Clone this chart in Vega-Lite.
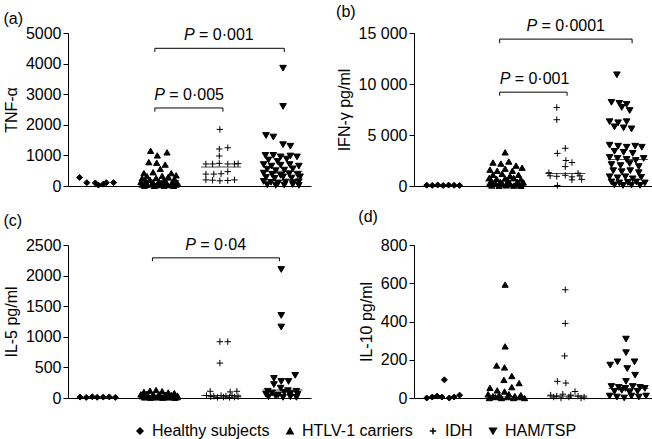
{
  "$schema": "https://vega.github.io/schema/vega-lite/v6.json",
  "padding": {"left": 3, "top": 4, "right": 0, "bottom": 0},
  "background": "white",
  "datasets": {
    "pts": [
      {"p":"a","g":"Healthy subjects","x":0.19,"v":280},{"p":"a","g":"Healthy subjects","x":0.31,"v":110},{"p":"a","g":"Healthy subjects","x":0.45,"v":100},{"p":"a","g":"Healthy subjects","x":0.5,"v":30},{"p":"a","g":"Healthy subjects","x":0.58,"v":60},{"p":"a","g":"Healthy subjects","x":0.63,"v":110},{"p":"a","g":"Healthy subjects","x":0.75,"v":110},
      {"p":"a","g":"HTLV-1 carriers","x":1.36,"v":1150},{"p":"a","g":"HTLV-1 carriers","x":1.63,"v":1100},{"p":"a","g":"HTLV-1 carriers","x":1.47,"v":1000},{"p":"a","g":"HTLV-1 carriers","x":1.33,"v":780},{"p":"a","g":"HTLV-1 carriers","x":1.46,"v":760},{"p":"a","g":"HTLV-1 carriers","x":1.6,"v":700},{"p":"a","g":"HTLV-1 carriers","x":1.52,"v":560},{"p":"a","g":"HTLV-1 carriers","x":1.25,"v":420},{"p":"a","g":"HTLV-1 carriers","x":1.4,"v":450},{"p":"a","g":"HTLV-1 carriers","x":1.7,"v":420},{"p":"a","g":"HTLV-1 carriers","x":1.78,"v":350},{"p":"a","g":"HTLV-1 carriers","x":1.3,"v":320},{"p":"a","g":"HTLV-1 carriers","x":1.55,"v":330},{"p":"a","g":"HTLV-1 carriers","x":1.65,"v":300},{"p":"a","g":"HTLV-1 carriers","x":1.22,"v":250},{"p":"a","g":"HTLV-1 carriers","x":1.45,"v":260},{"p":"a","g":"HTLV-1 carriers","x":1.75,"v":230},{"p":"a","g":"HTLV-1 carriers","x":1.35,"v":200},{"p":"a","g":"HTLV-1 carriers","x":1.58,"v":190},{"p":"a","g":"HTLV-1 carriers","x":1.2,"v":130},{"p":"a","g":"HTLV-1 carriers","x":1.28,"v":150},{"p":"a","g":"HTLV-1 carriers","x":1.4,"v":120},{"p":"a","g":"HTLV-1 carriers","x":1.5,"v":140},{"p":"a","g":"HTLV-1 carriers","x":1.62,"v":110},{"p":"a","g":"HTLV-1 carriers","x":1.72,"v":130},{"p":"a","g":"HTLV-1 carriers","x":1.8,"v":100},{"p":"a","g":"HTLV-1 carriers","x":1.22,"v":50},{"p":"a","g":"HTLV-1 carriers","x":1.3,"v":40},{"p":"a","g":"HTLV-1 carriers","x":1.38,"v":60},{"p":"a","g":"HTLV-1 carriers","x":1.46,"v":30},{"p":"a","g":"HTLV-1 carriers","x":1.54,"v":50},{"p":"a","g":"HTLV-1 carriers","x":1.62,"v":40},{"p":"a","g":"HTLV-1 carriers","x":1.7,"v":30},{"p":"a","g":"HTLV-1 carriers","x":1.78,"v":50},{"p":"a","g":"HTLV-1 carriers","x":1.26,"v":10},{"p":"a","g":"HTLV-1 carriers","x":1.42,"v":5},{"p":"a","g":"HTLV-1 carriers","x":1.58,"v":10},{"p":"a","g":"HTLV-1 carriers","x":1.74,"v":5},
      {"p":"a","g":"IDH","x":2.5,"v":1850},{"p":"a","g":"IDH","x":2.49,"v":1210},{"p":"a","g":"IDH","x":2.63,"v":1250},{"p":"a","g":"IDH","x":2.49,"v":980},{"p":"a","g":"IDH","x":2.27,"v":720},{"p":"a","g":"IDH","x":2.38,"v":720},{"p":"a","g":"IDH","x":2.49,"v":740},{"p":"a","g":"IDH","x":2.63,"v":720},{"p":"a","g":"IDH","x":2.74,"v":720},{"p":"a","g":"IDH","x":2.8,"v":730},{"p":"a","g":"IDH","x":2.63,"v":470},{"p":"a","g":"IDH","x":2.27,"v":390},{"p":"a","g":"IDH","x":2.4,"v":390},{"p":"a","g":"IDH","x":2.52,"v":400},{"p":"a","g":"IDH","x":2.27,"v":200},{"p":"a","g":"IDH","x":2.38,"v":190},{"p":"a","g":"IDH","x":2.5,"v":170},{"p":"a","g":"IDH","x":2.63,"v":180},{"p":"a","g":"IDH","x":2.74,"v":200},
      {"p":"a","g":"HAM/TSP","x":3.54,"v":3850},{"p":"a","g":"HAM/TSP","x":3.54,"v":2600},{"p":"a","g":"HAM/TSP","x":3.26,"v":1650},{"p":"a","g":"HAM/TSP","x":3.38,"v":1600},{"p":"a","g":"HAM/TSP","x":3.54,"v":1350},{"p":"a","g":"HAM/TSP","x":3.66,"v":1300},{"p":"a","g":"HAM/TSP","x":3.25,"v":1000},{"p":"a","g":"HAM/TSP","x":3.38,"v":1000},{"p":"a","g":"HAM/TSP","x":3.5,"v":950},{"p":"a","g":"HAM/TSP","x":3.66,"v":980},{"p":"a","g":"HAM/TSP","x":3.77,"v":950},{"p":"a","g":"HAM/TSP","x":3.3,"v":850},{"p":"a","g":"HAM/TSP","x":3.45,"v":800},{"p":"a","g":"HAM/TSP","x":3.6,"v":880},{"p":"a","g":"HAM/TSP","x":3.22,"v":700},{"p":"a","g":"HAM/TSP","x":3.35,"v":650},{"p":"a","g":"HAM/TSP","x":3.5,"v":680},{"p":"a","g":"HAM/TSP","x":3.65,"v":700},{"p":"a","g":"HAM/TSP","x":3.8,"v":650},{"p":"a","g":"HAM/TSP","x":3.28,"v":550},{"p":"a","g":"HAM/TSP","x":3.42,"v":500},{"p":"a","g":"HAM/TSP","x":3.56,"v":520},{"p":"a","g":"HAM/TSP","x":3.7,"v":560},{"p":"a","g":"HAM/TSP","x":3.22,"v":420},{"p":"a","g":"HAM/TSP","x":3.36,"v":380},{"p":"a","g":"HAM/TSP","x":3.5,"v":350},{"p":"a","g":"HAM/TSP","x":3.64,"v":400},{"p":"a","g":"HAM/TSP","x":3.78,"v":370},{"p":"a","g":"HAM/TSP","x":3.26,"v":280},{"p":"a","g":"HAM/TSP","x":3.4,"v":250},{"p":"a","g":"HAM/TSP","x":3.54,"v":300},{"p":"a","g":"HAM/TSP","x":3.68,"v":260},{"p":"a","g":"HAM/TSP","x":3.82,"v":300},{"p":"a","g":"HAM/TSP","x":3.22,"v":150},{"p":"a","g":"HAM/TSP","x":3.34,"v":120},{"p":"a","g":"HAM/TSP","x":3.46,"v":100},{"p":"a","g":"HAM/TSP","x":3.58,"v":130},{"p":"a","g":"HAM/TSP","x":3.7,"v":110},{"p":"a","g":"HAM/TSP","x":3.8,"v":140},{"p":"a","g":"HAM/TSP","x":3.28,"v":40},{"p":"a","g":"HAM/TSP","x":3.42,"v":20},{"p":"a","g":"HAM/TSP","x":3.56,"v":30},{"p":"a","g":"HAM/TSP","x":3.7,"v":50},{"p":"a","g":"HAM/TSP","x":3.8,"v":20},

      {"p":"b","g":"Healthy subjects","x":0.21,"v":80},{"p":"b","g":"Healthy subjects","x":0.3,"v":60},{"p":"b","g":"Healthy subjects","x":0.39,"v":100},{"p":"b","g":"Healthy subjects","x":0.48,"v":50},{"p":"b","g":"Healthy subjects","x":0.57,"v":90},{"p":"b","g":"Healthy subjects","x":0.66,"v":70},{"p":"b","g":"Healthy subjects","x":0.75,"v":60},
      {"p":"b","g":"HTLV-1 carriers","x":1.5,"v":3300},{"p":"b","g":"HTLV-1 carriers","x":1.3,"v":2300},{"p":"b","g":"HTLV-1 carriers","x":1.43,"v":2200},{"p":"b","g":"HTLV-1 carriers","x":1.56,"v":2400},{"p":"b","g":"HTLV-1 carriers","x":1.68,"v":2000},{"p":"b","g":"HTLV-1 carriers","x":1.25,"v":1600},{"p":"b","g":"HTLV-1 carriers","x":1.37,"v":1500},{"p":"b","g":"HTLV-1 carriers","x":1.5,"v":1700},{"p":"b","g":"HTLV-1 carriers","x":1.62,"v":1500},{"p":"b","g":"HTLV-1 carriers","x":1.78,"v":1800},{"p":"b","g":"HTLV-1 carriers","x":1.3,"v":1100},{"p":"b","g":"HTLV-1 carriers","x":1.45,"v":1200},{"p":"b","g":"HTLV-1 carriers","x":1.58,"v":1000},{"p":"b","g":"HTLV-1 carriers","x":1.72,"v":1100},{"p":"b","g":"HTLV-1 carriers","x":1.24,"v":800},{"p":"b","g":"HTLV-1 carriers","x":1.36,"v":700},{"p":"b","g":"HTLV-1 carriers","x":1.5,"v":750},{"p":"b","g":"HTLV-1 carriers","x":1.64,"v":800},{"p":"b","g":"HTLV-1 carriers","x":1.76,"v":650},{"p":"b","g":"HTLV-1 carriers","x":1.28,"v":450},{"p":"b","g":"HTLV-1 carriers","x":1.42,"v":400},{"p":"b","g":"HTLV-1 carriers","x":1.55,"v":500},{"p":"b","g":"HTLV-1 carriers","x":1.7,"v":420},{"p":"b","g":"HTLV-1 carriers","x":1.8,"v":350},{"p":"b","g":"HTLV-1 carriers","x":1.24,"v":200},{"p":"b","g":"HTLV-1 carriers","x":1.34,"v":250},{"p":"b","g":"HTLV-1 carriers","x":1.46,"v":180},{"p":"b","g":"HTLV-1 carriers","x":1.58,"v":220},{"p":"b","g":"HTLV-1 carriers","x":1.7,"v":150},{"p":"b","g":"HTLV-1 carriers","x":1.78,"v":200},{"p":"b","g":"HTLV-1 carriers","x":1.28,"v":50},{"p":"b","g":"HTLV-1 carriers","x":1.4,"v":30},{"p":"b","g":"HTLV-1 carriers","x":1.52,"v":60},{"p":"b","g":"HTLV-1 carriers","x":1.64,"v":40},{"p":"b","g":"HTLV-1 carriers","x":1.76,"v":20},
      {"p":"b","g":"IDH","x":2.35,"v":7700},{"p":"b","g":"IDH","x":2.35,"v":6500},{"p":"b","g":"IDH","x":2.49,"v":3700},{"p":"b","g":"IDH","x":2.36,"v":3200},{"p":"b","g":"IDH","x":2.5,"v":2500},{"p":"b","g":"IDH","x":2.6,"v":2300},{"p":"b","g":"IDH","x":2.49,"v":1900},{"p":"b","g":"IDH","x":2.22,"v":1300},{"p":"b","g":"IDH","x":2.7,"v":1250},{"p":"b","g":"IDH","x":2.24,"v":1000},{"p":"b","g":"IDH","x":2.35,"v":950},{"p":"b","g":"IDH","x":2.49,"v":1050},{"p":"b","g":"IDH","x":2.6,"v":900},{"p":"b","g":"IDH","x":2.73,"v":1000},{"p":"b","g":"IDH","x":2.6,"v":600},{"p":"b","g":"IDH","x":2.76,"v":650},{"p":"b","g":"IDH","x":2.36,"v":50},
      {"p":"b","g":"HAM/TSP","x":3.34,"v":10900},{"p":"b","g":"HAM/TSP","x":3.25,"v":8200},{"p":"b","g":"HAM/TSP","x":3.38,"v":8100},{"p":"b","g":"HAM/TSP","x":3.5,"v":8000},{"p":"b","g":"HAM/TSP","x":3.42,"v":7700},{"p":"b","g":"HAM/TSP","x":3.55,"v":7400},{"p":"b","g":"HAM/TSP","x":3.22,"v":6300},{"p":"b","g":"HAM/TSP","x":3.36,"v":6200},{"p":"b","g":"HAM/TSP","x":3.5,"v":6300},{"p":"b","g":"HAM/TSP","x":3.3,"v":5800},{"p":"b","g":"HAM/TSP","x":3.45,"v":5700},{"p":"b","g":"HAM/TSP","x":3.58,"v":5600},{"p":"b","g":"HAM/TSP","x":3.22,"v":4000},{"p":"b","g":"HAM/TSP","x":3.36,"v":3900},{"p":"b","g":"HAM/TSP","x":3.5,"v":3800},{"p":"b","g":"HAM/TSP","x":3.64,"v":3900},{"p":"b","g":"HAM/TSP","x":3.75,"v":3800},{"p":"b","g":"HAM/TSP","x":3.3,"v":3400},{"p":"b","g":"HAM/TSP","x":3.45,"v":3300},{"p":"b","g":"HAM/TSP","x":3.6,"v":3200},{"p":"b","g":"HAM/TSP","x":3.22,"v":2800},{"p":"b","g":"HAM/TSP","x":3.35,"v":2700},{"p":"b","g":"HAM/TSP","x":3.5,"v":2600},{"p":"b","g":"HAM/TSP","x":3.65,"v":2500},{"p":"b","g":"HAM/TSP","x":3.78,"v":2700},{"p":"b","g":"HAM/TSP","x":3.25,"v":2100},{"p":"b","g":"HAM/TSP","x":3.4,"v":2000},{"p":"b","g":"HAM/TSP","x":3.55,"v":2200},{"p":"b","g":"HAM/TSP","x":3.7,"v":1900},{"p":"b","g":"HAM/TSP","x":3.28,"v":1500},{"p":"b","g":"HAM/TSP","x":3.42,"v":1400},{"p":"b","g":"HAM/TSP","x":3.56,"v":1500},{"p":"b","g":"HAM/TSP","x":3.7,"v":1300},{"p":"b","g":"HAM/TSP","x":3.22,"v":900},{"p":"b","g":"HAM/TSP","x":3.35,"v":800},{"p":"b","g":"HAM/TSP","x":3.48,"v":900},{"p":"b","g":"HAM/TSP","x":3.6,"v":700},{"p":"b","g":"HAM/TSP","x":3.74,"v":850},{"p":"b","g":"HAM/TSP","x":3.25,"v":400},{"p":"b","g":"HAM/TSP","x":3.38,"v":300},{"p":"b","g":"HAM/TSP","x":3.52,"v":350},{"p":"b","g":"HAM/TSP","x":3.66,"v":400},{"p":"b","g":"HAM/TSP","x":3.8,"v":300},{"p":"b","g":"HAM/TSP","x":3.3,"v":100},{"p":"b","g":"HAM/TSP","x":3.44,"v":50},{"p":"b","g":"HAM/TSP","x":3.58,"v":80},{"p":"b","g":"HAM/TSP","x":3.72,"v":60},

      {"p":"c","g":"Healthy subjects","x":0.2,"v":15},{"p":"c","g":"Healthy subjects","x":0.3,"v":10},{"p":"c","g":"Healthy subjects","x":0.4,"v":20},{"p":"c","g":"Healthy subjects","x":0.48,"v":12},{"p":"c","g":"Healthy subjects","x":0.58,"v":15},{"p":"c","g":"Healthy subjects","x":0.68,"v":18},{"p":"c","g":"Healthy subjects","x":0.78,"v":10},
      {"p":"c","g":"HTLV-1 carriers","x":1.25,"v":100},{"p":"c","g":"HTLV-1 carriers","x":1.35,"v":120},{"p":"c","g":"HTLV-1 carriers","x":1.45,"v":130},{"p":"c","g":"HTLV-1 carriers","x":1.55,"v":110},{"p":"c","g":"HTLV-1 carriers","x":1.65,"v":90},{"p":"c","g":"HTLV-1 carriers","x":1.75,"v":80},{"p":"c","g":"HTLV-1 carriers","x":1.2,"v":60},{"p":"c","g":"HTLV-1 carriers","x":1.3,"v":70},{"p":"c","g":"HTLV-1 carriers","x":1.4,"v":50},{"p":"c","g":"HTLV-1 carriers","x":1.5,"v":60},{"p":"c","g":"HTLV-1 carriers","x":1.6,"v":55},{"p":"c","g":"HTLV-1 carriers","x":1.7,"v":50},{"p":"c","g":"HTLV-1 carriers","x":1.8,"v":40},{"p":"c","g":"HTLV-1 carriers","x":1.22,"v":30},{"p":"c","g":"HTLV-1 carriers","x":1.32,"v":25},{"p":"c","g":"HTLV-1 carriers","x":1.42,"v":30},{"p":"c","g":"HTLV-1 carriers","x":1.52,"v":20},{"p":"c","g":"HTLV-1 carriers","x":1.62,"v":25},{"p":"c","g":"HTLV-1 carriers","x":1.72,"v":30},{"p":"c","g":"HTLV-1 carriers","x":1.8,"v":15},{"p":"c","g":"HTLV-1 carriers","x":1.26,"v":10},{"p":"c","g":"HTLV-1 carriers","x":1.36,"v":5},{"p":"c","g":"HTLV-1 carriers","x":1.46,"v":10},{"p":"c","g":"HTLV-1 carriers","x":1.56,"v":5},{"p":"c","g":"HTLV-1 carriers","x":1.66,"v":10},{"p":"c","g":"HTLV-1 carriers","x":1.76,"v":5},
      {"p":"c","g":"IDH","x":2.5,"v":920},{"p":"c","g":"IDH","x":2.63,"v":920},{"p":"c","g":"IDH","x":2.5,"v":570},{"p":"c","g":"IDH","x":2.34,"v":110},{"p":"c","g":"IDH","x":2.67,"v":100},{"p":"c","g":"IDH","x":2.78,"v":110},{"p":"c","g":"IDH","x":2.28,"v":40},{"p":"c","g":"IDH","x":2.4,"v":30},{"p":"c","g":"IDH","x":2.52,"v":40},{"p":"c","g":"IDH","x":2.6,"v":30},{"p":"c","g":"IDH","x":2.7,"v":40},{"p":"c","g":"IDH","x":2.8,"v":20},{"p":"c","g":"IDH","x":2.35,"v":20},{"p":"c","g":"IDH","x":2.46,"v":10},{"p":"c","g":"IDH","x":2.56,"v":15},{"p":"c","g":"IDH","x":2.66,"v":10},{"p":"c","g":"IDH","x":2.74,"v":15},
      {"p":"c","g":"HAM/TSP","x":3.51,"v":2100},{"p":"c","g":"HAM/TSP","x":3.51,"v":1350},{"p":"c","g":"HAM/TSP","x":3.51,"v":1160},{"p":"c","g":"HAM/TSP","x":3.74,"v":370},{"p":"c","g":"HAM/TSP","x":3.39,"v":320},{"p":"c","g":"HAM/TSP","x":3.51,"v":270},{"p":"c","g":"HAM/TSP","x":3.63,"v":270},{"p":"c","g":"HAM/TSP","x":3.39,"v":220},{"p":"c","g":"HAM/TSP","x":3.5,"v":160},{"p":"c","g":"HAM/TSP","x":3.29,"v":110},{"p":"c","g":"HAM/TSP","x":3.62,"v":120},{"p":"c","g":"HAM/TSP","x":3.76,"v":110},{"p":"c","g":"HAM/TSP","x":3.26,"v":60},{"p":"c","g":"HAM/TSP","x":3.36,"v":80},{"p":"c","g":"HAM/TSP","x":3.46,"v":50},{"p":"c","g":"HAM/TSP","x":3.56,"v":90},{"p":"c","g":"HAM/TSP","x":3.66,"v":70},{"p":"c","g":"HAM/TSP","x":3.78,"v":60},{"p":"c","g":"HAM/TSP","x":3.3,"v":20},{"p":"c","g":"HAM/TSP","x":3.42,"v":30},{"p":"c","g":"HAM/TSP","x":3.54,"v":10},{"p":"c","g":"HAM/TSP","x":3.66,"v":20},{"p":"c","g":"HAM/TSP","x":3.76,"v":10},

      {"p":"d","g":"Healthy subjects","x":0.5,"v":95},{"p":"d","g":"Healthy subjects","x":0.21,"v":0},{"p":"d","g":"Healthy subjects","x":0.3,"v":5},{"p":"d","g":"Healthy subjects","x":0.38,"v":10},{"p":"d","g":"Healthy subjects","x":0.46,"v":5},{"p":"d","g":"Healthy subjects","x":0.58,"v":0},{"p":"d","g":"Healthy subjects","x":0.66,"v":5},{"p":"d","g":"Healthy subjects","x":0.75,"v":15},
      {"p":"d","g":"HTLV-1 carriers","x":1.5,"v":593},{"p":"d","g":"HTLV-1 carriers","x":1.5,"v":270},{"p":"d","g":"HTLV-1 carriers","x":1.36,"v":170},{"p":"d","g":"HTLV-1 carriers","x":1.49,"v":160},{"p":"d","g":"HTLV-1 carriers","x":1.61,"v":115},{"p":"d","g":"HTLV-1 carriers","x":1.48,"v":95},{"p":"d","g":"HTLV-1 carriers","x":1.73,"v":78},{"p":"d","g":"HTLV-1 carriers","x":1.61,"v":57},{"p":"d","g":"HTLV-1 carriers","x":1.25,"v":53},{"p":"d","g":"HTLV-1 carriers","x":1.37,"v":40},{"p":"d","g":"HTLV-1 carriers","x":1.49,"v":34},{"p":"d","g":"HTLV-1 carriers","x":1.22,"v":20},{"p":"d","g":"HTLV-1 carriers","x":1.3,"v":10},{"p":"d","g":"HTLV-1 carriers","x":1.4,"v":15},{"p":"d","g":"HTLV-1 carriers","x":1.56,"v":20},{"p":"d","g":"HTLV-1 carriers","x":1.66,"v":10},{"p":"d","g":"HTLV-1 carriers","x":1.76,"v":15},{"p":"d","g":"HTLV-1 carriers","x":1.24,"v":0},{"p":"d","g":"HTLV-1 carriers","x":1.34,"v":5},{"p":"d","g":"HTLV-1 carriers","x":1.44,"v":0},{"p":"d","g":"HTLV-1 carriers","x":1.54,"v":5},{"p":"d","g":"HTLV-1 carriers","x":1.64,"v":0},{"p":"d","g":"HTLV-1 carriers","x":1.74,"v":5},{"p":"d","g":"HTLV-1 carriers","x":1.82,"v":0},
      {"p":"d","g":"IDH","x":2.49,"v":566},{"p":"d","g":"IDH","x":2.49,"v":390},{"p":"d","g":"IDH","x":2.48,"v":220},{"p":"d","g":"IDH","x":2.36,"v":87},{"p":"d","g":"IDH","x":2.5,"v":78},{"p":"d","g":"IDH","x":2.65,"v":34},{"p":"d","g":"IDH","x":2.25,"v":15},{"p":"d","g":"IDH","x":2.35,"v":10},{"p":"d","g":"IDH","x":2.45,"v":20},{"p":"d","g":"IDH","x":2.58,"v":15},{"p":"d","g":"IDH","x":2.7,"v":10},{"p":"d","g":"IDH","x":2.8,"v":5},{"p":"d","g":"IDH","x":2.3,"v":5},{"p":"d","g":"IDH","x":2.42,"v":0},{"p":"d","g":"IDH","x":2.55,"v":5},{"p":"d","g":"IDH","x":2.75,"v":0},
      {"p":"d","g":"HAM/TSP","x":3.49,"v":308},{"p":"d","g":"HAM/TSP","x":3.49,"v":237},{"p":"d","g":"HAM/TSP","x":3.35,"v":189},{"p":"d","g":"HAM/TSP","x":3.63,"v":189},{"p":"d","g":"HAM/TSP","x":3.23,"v":172},{"p":"d","g":"HAM/TSP","x":3.51,"v":154},{"p":"d","g":"HAM/TSP","x":3.64,"v":119},{"p":"d","g":"HAM/TSP","x":3.49,"v":87},{"p":"d","g":"HAM/TSP","x":3.25,"v":60},{"p":"d","g":"HAM/TSP","x":3.37,"v":55},{"p":"d","g":"HAM/TSP","x":3.48,"v":50},{"p":"d","g":"HAM/TSP","x":3.6,"v":60},{"p":"d","g":"HAM/TSP","x":3.72,"v":55},{"p":"d","g":"HAM/TSP","x":3.8,"v":50},{"p":"d","g":"HAM/TSP","x":3.3,"v":35},{"p":"d","g":"HAM/TSP","x":3.42,"v":40},{"p":"d","g":"HAM/TSP","x":3.55,"v":30},{"p":"d","g":"HAM/TSP","x":3.68,"v":35},{"p":"d","g":"HAM/TSP","x":3.22,"v":10},{"p":"d","g":"HAM/TSP","x":3.34,"v":5},{"p":"d","g":"HAM/TSP","x":3.46,"v":0},{"p":"d","g":"HAM/TSP","x":3.58,"v":10},{"p":"d","g":"HAM/TSP","x":3.7,"v":5},{"p":"d","g":"HAM/TSP","x":3.82,"v":10}
    ],
    "med": [
      {"p":"a","x":1.5,"v":180},{"p":"a","x":2.52,"v":620},{"p":"a","x":3.53,"v":480},
      {"p":"b","x":1.5,"v":500},{"p":"b","x":2.49,"v":1220},{"p":"b","x":3.52,"v":2600},
      {"p":"c","x":1.5,"v":30},{"p":"c","x":2.52,"v":40},{"p":"c","x":3.53,"v":130},
      {"p":"d","x":1.5,"v":5},{"p":"d","x":2.52,"v":10},{"p":"d","x":3.53,"v":50}
    ],
    "br": [
      {"p":"a","x":1.43,"x2":3.56,"xs":1.91,"v":4500,"v2":4380,"rest":"= 0·001"},
      {"p":"a","x":1.43,"x2":2.55,"xs":1.42,"v":2550,"v2":2430,"rest":"= 0·005"},
      {"p":"b","x":1.41,"x2":3.59,"xs":1.85,"v":14400,"v2":14000,"rest":"= 0·0001"},
      {"p":"b","x":1.41,"x2":2.52,"xs":1.41,"v":9200,"v2":8850,"rest":"= 0·001"},
      {"p":"c","x":1.39,"x2":3.48,"xs":1.93,"v":2290,"v2":2235,"rest":"= 0·04"}
    ]
  },
  "columns": 2,
  "spacing": {"row": 15, "column": 25},
  "concat": [
    {
      "title": {"text": "(a)", "offset": -2},
      "width": 243, "height": 153,
      "encoding": {
        "x": {"field": "x", "type": "quantitative", "scale": {"domain": [0, 4], "nice": false}, "axis": {"ticks": false, "labels": false, "title": null}},
        "y": {"field": "v", "type": "quantitative", "scale": {"domain": [0, 5000], "nice": false}, "axis": {"title": "TNF-α", "values": [0, 1000, 2000, 3000, 4000, 5000], "format": "d"}}
      },
      "layer": [
        {"data": {"name": "pts"}, "transform": [{"filter": "datum.p == 'a'"}], "mark": {"type": "point", "filled": true, "color": "black", "stroke": "black", "strokeWidth": 1, "opacity": 1},
         "encoding": {"shape": {"field": "g", "type": "nominal", "scale": {"domain": ["Healthy subjects", "HTLV-1 carriers", "IDH", "HAM/TSP"], "range": ["diamond", "triangle-up", "M-1,0H1M0,-1V1", "triangle-down"]}, "legend": {"title": null, "orient": "none", "legendX": 64, "legendY": 390, "direction": "horizontal", "encode": {"symbols": {"update": {"stroke": {"value": "black"}, "strokeWidth": {"value": 1}, "fill": {"value": "black"}, "size": {"value": 25}}}}}}, "size": {"field": "g", "type": "nominal", "scale": {"domain": ["Healthy subjects", "HTLV-1 carriers", "IDH", "HAM/TSP"], "range": [36, 44, 30, 44]}, "legend": {"title": null}}}},
        {"data": {"name": "med"}, "transform": [{"filter": "datum.p == 'a'"}], "mark": {"type": "tick", "orient": "horizontal", "size": 40, "thickness": 1, "color": "black"}},
        {"data": {"name": "br"}, "transform": [{"filter": "datum.p == 'a'"}], "mark": {"type": "rule", "color": "black"}, "encoding": {"x2": {"field": "x2"}}},
        {"data": {"name": "br"}, "transform": [{"filter": "datum.p == 'a'"}], "mark": {"type": "rule", "color": "black"}, "encoding": {"y2": {"field": "v2"}}},
        {"data": {"name": "br"}, "transform": [{"filter": "datum.p == 'a'"}], "mark": {"type": "rule", "color": "black"}, "encoding": {"x": {"field": "x2", "type": "quantitative"}, "y2": {"field": "v2"}}},
        {"data": {"name": "br"}, "transform": [{"filter": "datum.p == 'a'"}], "mark": {"type": "text", "fontSize": 16, "fontStyle": "italic", "align": "left", "dy": -13, "baseline": "middle", "color": "black", "text": "P"}, "encoding": {"x": {"field": "xs", "type": "quantitative"}}},
        {"data": {"name": "br"}, "transform": [{"filter": "datum.p == 'a'"}], "mark": {"type": "text", "fontSize": 16, "align": "left", "dx": 15, "dy": -13, "baseline": "middle", "color": "black"}, "encoding": {"x": {"field": "xs", "type": "quantitative"}, "text": {"field": "rest"}}}
      ]
    },
    {
      "title": {"text": "(b)", "offset": -2},
      "width": 243, "height": 153,
      "encoding": {
        "x": {"field": "x", "type": "quantitative", "scale": {"domain": [0, 4], "nice": false}, "axis": {"ticks": false, "labels": false, "title": null}},
        "y": {"field": "v", "type": "quantitative", "scale": {"domain": [0, 15000], "nice": false}, "axis": {"title": "IFN-γ pg/ml", "values": [0, 5000, 10000, 15000], "labelExpr": "replace(format(datum.value, ','), ',', ' ')"}}
      },
      "layer": [
        {"data": {"name": "pts"}, "transform": [{"filter": "datum.p == 'b'"}], "mark": {"type": "point", "filled": true, "color": "black", "stroke": "black", "strokeWidth": 1, "opacity": 1},
         "encoding": {"shape": {"field": "g", "type": "nominal", "scale": {"domain": ["Healthy subjects", "HTLV-1 carriers", "IDH", "HAM/TSP"], "range": ["diamond", "triangle-up", "M-1,0H1M0,-1V1", "triangle-down"]}, "legend": {"title": null, "orient": "none", "legendX": 64, "legendY": 390, "direction": "horizontal", "encode": {"symbols": {"update": {"stroke": {"value": "black"}, "strokeWidth": {"value": 1}, "fill": {"value": "black"}, "size": {"value": 25}}}}}}, "size": {"field": "g", "type": "nominal", "scale": {"domain": ["Healthy subjects", "HTLV-1 carriers", "IDH", "HAM/TSP"], "range": [36, 44, 30, 44]}, "legend": {"title": null}}}},
        {"data": {"name": "med"}, "transform": [{"filter": "datum.p == 'b'"}], "mark": {"type": "tick", "orient": "horizontal", "size": 40, "thickness": 1, "color": "black"}},
        {"data": {"name": "br"}, "transform": [{"filter": "datum.p == 'b'"}], "mark": {"type": "rule", "color": "black"}, "encoding": {"x2": {"field": "x2"}}},
        {"data": {"name": "br"}, "transform": [{"filter": "datum.p == 'b'"}], "mark": {"type": "rule", "color": "black"}, "encoding": {"y2": {"field": "v2"}}},
        {"data": {"name": "br"}, "transform": [{"filter": "datum.p == 'b'"}], "mark": {"type": "rule", "color": "black"}, "encoding": {"x": {"field": "x2", "type": "quantitative"}, "y2": {"field": "v2"}}},
        {"data": {"name": "br"}, "transform": [{"filter": "datum.p == 'b'"}], "mark": {"type": "text", "fontSize": 16, "fontStyle": "italic", "align": "left", "dy": -13, "baseline": "middle", "color": "black", "text": "P"}, "encoding": {"x": {"field": "xs", "type": "quantitative"}}},
        {"data": {"name": "br"}, "transform": [{"filter": "datum.p == 'b'"}], "mark": {"type": "text", "fontSize": 16, "align": "left", "dx": 15, "dy": -13, "baseline": "middle", "color": "black"}, "encoding": {"x": {"field": "xs", "type": "quantitative"}, "text": {"field": "rest"}}}
      ]
    },
    {
      "title": {"text": "(c)", "offset": 8},
      "width": 243, "height": 153,
      "encoding": {
        "x": {"field": "x", "type": "quantitative", "scale": {"domain": [0, 4], "nice": false}, "axis": {"ticks": false, "labels": false, "title": null}},
        "y": {"field": "v", "type": "quantitative", "scale": {"domain": [0, 2500], "nice": false}, "axis": {"title": "IL-5 pg/ml", "values": [0, 500, 1000, 1500, 2000, 2500], "format": "d"}}
      },
      "layer": [
        {"data": {"name": "pts"}, "transform": [{"filter": "datum.p == 'c'"}], "mark": {"type": "point", "filled": true, "color": "black", "stroke": "black", "strokeWidth": 1, "opacity": 1},
         "encoding": {"shape": {"field": "g", "type": "nominal", "scale": {"domain": ["Healthy subjects", "HTLV-1 carriers", "IDH", "HAM/TSP"], "range": ["diamond", "triangle-up", "M-1,0H1M0,-1V1", "triangle-down"]}, "legend": {"title": null, "orient": "none", "legendX": 64, "legendY": 390, "direction": "horizontal", "encode": {"symbols": {"update": {"stroke": {"value": "black"}, "strokeWidth": {"value": 1}, "fill": {"value": "black"}, "size": {"value": 25}}}}}}, "size": {"field": "g", "type": "nominal", "scale": {"domain": ["Healthy subjects", "HTLV-1 carriers", "IDH", "HAM/TSP"], "range": [36, 44, 30, 44]}, "legend": {"title": null}}}},
        {"data": {"name": "med"}, "transform": [{"filter": "datum.p == 'c'"}], "mark": {"type": "tick", "orient": "horizontal", "size": 40, "thickness": 1, "color": "black"}},
        {"data": {"name": "br"}, "transform": [{"filter": "datum.p == 'c'"}], "mark": {"type": "rule", "color": "black"}, "encoding": {"x2": {"field": "x2"}}},
        {"data": {"name": "br"}, "transform": [{"filter": "datum.p == 'c'"}], "mark": {"type": "rule", "color": "black"}, "encoding": {"y2": {"field": "v2"}}},
        {"data": {"name": "br"}, "transform": [{"filter": "datum.p == 'c'"}], "mark": {"type": "rule", "color": "black"}, "encoding": {"x": {"field": "x2", "type": "quantitative"}, "y2": {"field": "v2"}}},
        {"data": {"name": "br"}, "transform": [{"filter": "datum.p == 'c'"}], "mark": {"type": "text", "fontSize": 16, "fontStyle": "italic", "align": "left", "dy": -13, "baseline": "middle", "color": "black", "text": "P"}, "encoding": {"x": {"field": "xs", "type": "quantitative"}}},
        {"data": {"name": "br"}, "transform": [{"filter": "datum.p == 'c'"}], "mark": {"type": "text", "fontSize": 16, "align": "left", "dx": 15, "dy": -13, "baseline": "middle", "color": "black"}, "encoding": {"x": {"field": "xs", "type": "quantitative"}, "text": {"field": "rest"}}}
      ]
    },
    {
      "title": {"text": "(d)", "offset": 12},
      "width": 243, "height": 153,
      "encoding": {
        "x": {"field": "x", "type": "quantitative", "scale": {"domain": [0, 4], "nice": false}, "axis": {"ticks": false, "labels": false, "title": null}},
        "y": {"field": "v", "type": "quantitative", "scale": {"domain": [0, 800], "nice": false}, "axis": {"title": "IL-10 pg/ml", "values": [0, 200, 400, 600, 800], "format": "d"}}
      },
      "layer": [
        {"data": {"name": "pts"}, "transform": [{"filter": "datum.p == 'd'"}], "mark": {"type": "point", "filled": true, "color": "black", "stroke": "black", "strokeWidth": 1, "opacity": 1},
         "encoding": {"shape": {"field": "g", "type": "nominal", "scale": {"domain": ["Healthy subjects", "HTLV-1 carriers", "IDH", "HAM/TSP"], "range": ["diamond", "triangle-up", "M-1,0H1M0,-1V1", "triangle-down"]}, "legend": {"title": null, "orient": "none", "legendX": 64, "legendY": 390, "direction": "horizontal", "encode": {"symbols": {"update": {"stroke": {"value": "black"}, "strokeWidth": {"value": 1}, "fill": {"value": "black"}, "size": {"value": 25}}}}}}, "size": {"field": "g", "type": "nominal", "scale": {"domain": ["Healthy subjects", "HTLV-1 carriers", "IDH", "HAM/TSP"], "range": [36, 44, 30, 44]}, "legend": {"title": null}}}},
        {"data": {"name": "med"}, "transform": [{"filter": "datum.p == 'd'"}], "mark": {"type": "tick", "orient": "horizontal", "size": 40, "thickness": 1, "color": "black"}}
      ]
    }
  ],
  "config": {
    "font": "Liberation Sans",
    "view": {"stroke": null},
    "axis": {"grid": false, "domainColor": "black", "tickColor": "black", "labelColor": "black", "titleColor": "black", "labelFontSize": 16, "titleFontSize": 16, "titleFontWeight": "normal", "tickSize": 5, "labelPadding": 2, "titlePadding": 6},
    "title": {"anchor": "start", "frame": "bounds", "fontSize": 16, "fontWeight": "normal", "color": "black"},
    "legend": {"labelFontSize": 16, "labelColor": "black", "columnPadding": 12, "labelOffset": 4}
  }
}
